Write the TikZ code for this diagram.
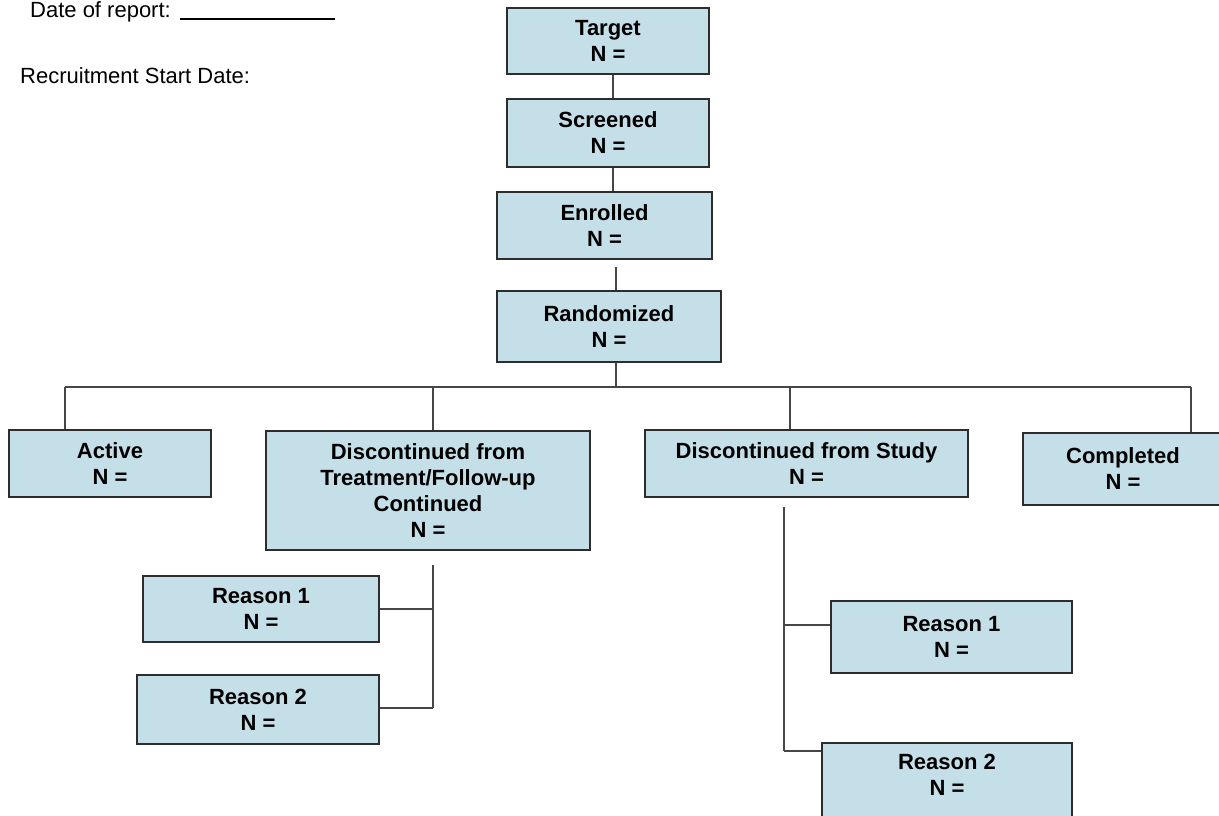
\documentclass[tikz,border=0pt]{standalone}
\usepackage{fontspec}
\setmainfont{Liberation Sans}
\definecolor{boxfill}{RGB}{197,223,233}
\definecolor{boxline}{RGB}{45,45,45}
\definecolor{connc}{RGB}{70,70,70}
\begin{document}
\begin{tikzpicture}[x=1pt,y=-1pt,
  box/.style={draw=boxline, fill=boxfill, line width=1.6pt, inner sep=0pt, align=center,
    font=\bfseries\fontsize{22}{26}\selectfont},
  plain/.style={inner sep=0pt, font=\fontsize{22}{26}\selectfont},
  conn/.style={draw=connc, line width=1.4pt}]
\useasboundingbox (0,0) rectangle (1219,815);
\clip (0,0) rectangle (1219,815);
\fill[white] (0,0) rectangle (1219,815);

% header texts
\node[plain, anchor=base west] (date) at (30,17) {Date of report:};
\coordinate (ulA) at (180,19);
\coordinate (ulB) at (335,19);
\draw[line width=1.6pt] (ulA) -- (ulB);
\node[plain, anchor=base west] (recr) at (20,83) {Recruitment Start Date:};

% main column
\node[box, minimum width=202pt, minimum height=66pt] (target) at (608,41) {Target\\N =};
\node[box, minimum width=202pt, minimum height=68pt] (screened) at (608,133) {Screened\\N =};
\node[box, minimum width=215pt, minimum height=67pt] (enrolled) at (604.5,225.5) {Enrolled\\N =};
\node[box, minimum width=224pt, minimum height=71pt] (random) at (609,326.5) {Randomized\\N =};

\draw[conn] (613,0 |- target.south) -- (613,0 |- screened.north);
\draw[conn] (613,0 |- screened.south) -- (613,0 |- enrolled.north);
\coordinate (erTop) at (616,267);
\draw[conn] (erTop) -- (616,0 |- random.north);

% bus
\coordinate (busL) at (65,387);
\coordinate (busR) at (1191,387);
\coordinate (busM) at (616,387);
\draw[conn] (616,0 |- random.south) -- (busM);
\draw[conn] (busL) -- (busR);

% second row
\node[box, minimum width=202pt, minimum height=67pt] (active) at (110,463.5) {Active\\N =};
\node[box, minimum width=324pt, minimum height=119pt] (dt) at (428,490.5)
  {Discontinued from\\Treatment/Follow-up\\Continued\\N =};
\node[box, minimum width=323pt, minimum height=67pt] (ds) at (806.5,463.5) {Discontinued from Study\\N =};
\node[box, minimum width=200pt, minimum height=72pt] (comp) at (1123,469) {Completed\\N =};

\draw[conn] (busL) -- (65,0 |- active.north);
\draw[conn] (433,387) -- (433,0 |- dt.north);
\draw[conn] (790,387) -- (790,0 |- ds.north);
\draw[conn] (busR) -- (1191,0 |- comp.north);

% left reasons
\node[box, minimum width=236pt, minimum height=66pt] (r1l) at (261,609) {Reason 1\\N =};
\node[box, minimum width=242pt, minimum height=69pt] (r2l) at (258,709.5) {Reason 2\\N =};
\coordinate (dtTop) at (433,565);
\coordinate (dtBot) at (433,708);
\draw[conn] (dtTop) -- (dtBot);
\draw[conn] (r1l.east) -- (433,0 |- r1l.east);
\draw[conn] (r2l.east |- dtBot) -- (dtBot);

% right reasons
\node[box, minimum width=241pt, minimum height=72pt] (r1r) at (951.5,637) {Reason 1\\N =};
\node[box, minimum width=250pt, minimum height=90pt] (r2r) at (947,788) {};
\node[inner sep=0pt, align=center, font=\bfseries\fontsize{22}{26}\selectfont, anchor=center]
  (r2rtext) at (947,775) {Reason 2\\N =};
\coordinate (dsTop) at (784,507);
\coordinate (dsBot) at (784,751);
\draw[conn] (dsTop) -- (dsBot);
\draw[conn] (784,625) -- (r1r.west |- 0,625);
\draw[conn] (dsBot) -- (r2r.west |- dsBot);
\end{tikzpicture}
\end{document}
